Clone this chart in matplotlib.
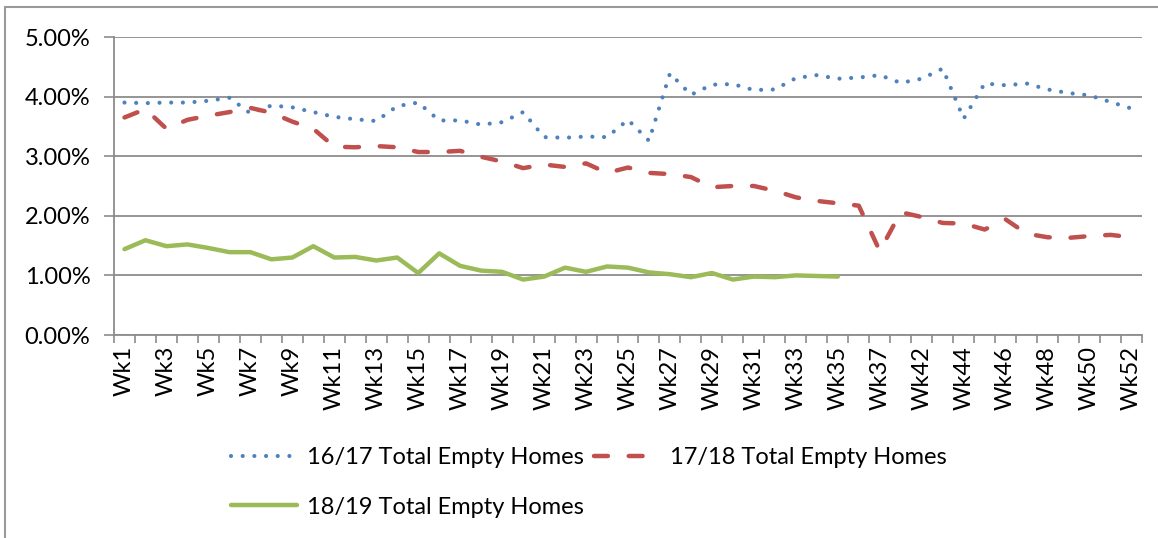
import numpy as np
import matplotlib.pyplot as plt
from matplotlib.patches import Rectangle
from matplotlib.ticker import FuncFormatter

plt.rcParams['font.family'] = ['Lato', 'DejaVu Sans']
plt.rcParams['lines.scale_dashes'] = False

# week labels (one hidden category between Wk37 and Wk42)
weeks = ['Wk%d' % w for w in range(1, 38)] + ['Wk38'] + ['Wk%d' % w for w in range(42, 53)]

homes_1617 = [3.90, 3.89, 3.90, 3.90, 3.93, 3.98, 3.72, 3.85, 3.82, 3.74,
              3.66, 3.62, 3.59, 3.84, 3.90, 3.60, 3.60, 3.53, 3.57, 3.74,
              3.32, 3.31, 3.33, 3.32, 3.61, 3.26, 4.39, 4.03, 4.20, 4.21,
              4.11, 4.12, 4.31, 4.36, 4.30, 4.32, 4.36, 4.23, 4.30, 4.47,
              3.63, 4.22, 4.19, 4.22, 4.12, 4.06, 4.02, 3.91, 3.80]
homes_1718 = [3.65, 3.79, 3.46, 3.61, 3.68, 3.74, 3.81, 3.73, 3.58, 3.46,
              3.16, 3.15, 3.17, 3.15, 3.07, 3.07, 3.09, 2.99, 2.91, 2.80,
              2.86, 2.82, 2.88, 2.72, 2.81, 2.72, 2.70, 2.65, 2.48, 2.50,
              2.50, 2.42, 2.31, 2.25, 2.21, 2.17, 1.41, 2.06, 1.98, 1.88,
              1.87, 1.77, 1.94, 1.70, 1.64, 1.63, 1.66, 1.68, 1.64]
homes_1819 = [1.44, 1.59, 1.49, 1.52, 1.46, 1.39, 1.39, 1.27, 1.30, 1.49,
              1.30, 1.31, 1.25, 1.30, 1.04, 1.37, 1.16, 1.08, 1.06, 0.93,
              0.98, 1.13, 1.06, 1.15, 1.13, 1.05, 1.02, 0.97, 1.04, 0.93,
              0.98, 0.97, 1.00, 0.99, 0.98]

fs = 17

fig = plt.figure(figsize=(11.58, 5.38), dpi=100)
ax = fig.add_axes([114 / 1158, 1 - 335 / 538, 1028 / 1158, 298 / 538])

# outer chart frame
fig.patches.append(Rectangle((5 / 1158, -0.05), 1.2, 1 - 7 / 538 + 0.05,
                             transform=fig.transFigure, fill=False,
                             edgecolor='#9a9a9a', linewidth=1.5))

x = np.arange(len(weeks))
l1, = ax.plot(x[:len(homes_1617)], homes_1617, color='#4F81BD', linewidth=3.0,
              dashes=(0.01, 8.4), dash_capstyle='round', label='16/17 Total Empty Homes')
l2, = ax.plot(x[:len(homes_1718)], homes_1718, color='#C0504D', linewidth=3.2,
              dashes=(10, 15), dash_capstyle='round', label='17/18 Total Empty Homes')
l3, = ax.plot(x[:len(homes_1819)], homes_1819, color='#9BBB59', linewidth=3.2,
              solid_capstyle='round', label='18/19 Total Empty Homes')

ax.set_xlim(-0.5, len(weeks) - 0.5)
ax.set_ylim(0, 5)
ax.set_yticks(np.arange(0, 5.01, 1))
ax.yaxis.set_major_formatter(FuncFormatter(lambda v, p: '%.2f%%' % v))
ax.yaxis.grid(True, color='#8c8c8c', linewidth=1.3)
ax.set_axisbelow(True)

ax.set_xticks(x[::2])
ax.set_xticklabels(weeks[::2], rotation=90)
ax.set_xticks(np.arange(-0.5, len(weeks)), minor=True)
ax.tick_params(axis='x', which='major', length=0, pad=8, labelsize=fs)
ax.tick_params(axis='x', which='minor', length=6, width=1.2, color='#8c8c8c')
ax.tick_params(axis='y', length=7, width=1.2, color='#8c8c8c', labelsize=fs, pad=10)

for s in ['top', 'right']:
    ax.spines[s].set_visible(False)
for s in ['left', 'bottom']:
    ax.spines[s].set_color('#8c8c8c')
    ax.spines[s].set_linewidth(1.3)

fig.legend([l1, l3, l2], [l1.get_label(), l3.get_label(), l2.get_label()],
           ncol=2, loc='upper left', bbox_to_anchor=(210 / 1158, 1 - 426 / 538),
           frameon=False, fontsize=fs, handlelength=2.8, handletextpad=0.42,
           columnspacing=0.42, labelspacing=1.2)

fig.savefig('out.png', dpi=100)
